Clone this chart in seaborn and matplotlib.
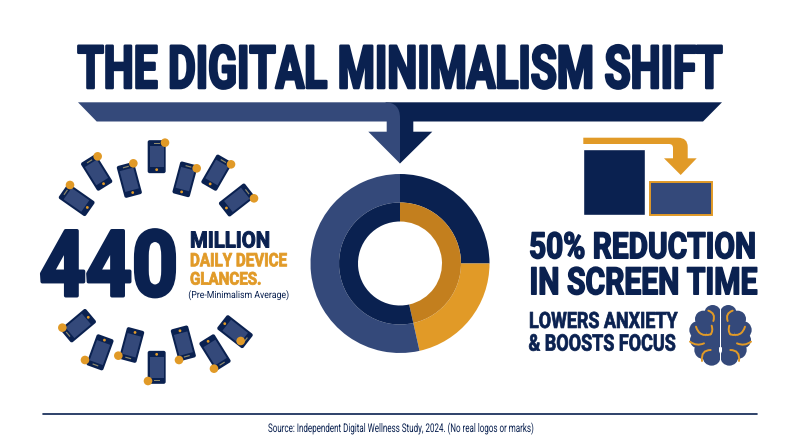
import matplotlib
matplotlib.use("Agg")
import matplotlib.patheffects as pe
import matplotlib.pyplot as plt
import matplotlib.transforms as mtransforms
from matplotlib.patches import Circle, FancyBboxPatch, PathPatch, Rectangle
from matplotlib.path import Path
import seaborn as sns
import pandas as pd

# ---- data ----
outer_labels = ["Segment A", "Segment B", "Segment C"]
outer_values = [25.0, 21.5, 53.5]
inner_labels = ["Segment D", "Segment E"]
inner_values = [46.5, 53.5]
screen_labels = ["Before", "After"]
screen_values = [100, 50]

title_text = "THE DIGITAL MINIMALISM SHIFT"
source_text = "Source: Independent Digital Wellness Study, 2024. (No real logos or marks)"

NAVY = "#0a2150"
BLUE = "#34497a"
ORANGE = "#e19a27"
DARK_ORANGE = "#c37f1e"

W, H = 800, 447
sns.set_theme(style="white")
plt.rcParams["font.family"] = ["Roboto", "DejaVu Sans"]

fig = plt.figure(figsize=(W / 100, H / 100), dpi=100, facecolor="white")
ax = fig.add_axes([0, 0, 1, 1])
ax.set_xlim(0, W)
ax.set_ylim(H, 0)
ax.axis("off")
renderer = fig.canvas.get_renderer()
CAP = 0.711
RIGHT_LIMIT = 790


class Condense(pe.AbstractPathEffect):
    """Reshape a text's glyphs about its left baseline point, optionally thickening them."""

    def __init__(self, sx, sy, stroke):
        super().__init__()
        self.sx, self.sy, self.stroke = sx, sy, stroke

    def draw_path(self, renderer, gc, tpath, affine, rgbFace=None):
        x0, y0 = affine.transform((0, 0))
        reshape = (mtransforms.Affine2D().translate(-x0, -y0)
                   .scale(self.sx, self.sy).translate(x0, y0))
        gc0 = renderer.new_gc()
        gc0.copy_properties(gc)
        if self.stroke > 0:
            gc0.set_linewidth(self.stroke * 0.72)
            gc0.set_foreground(rgbFace)
            gc0.set_joinstyle("round")
        renderer.draw_path(gc0, tpath, affine + reshape, rgbFace)
        gc0.restore()


def fit_text(s, x0, x1, top, base, color=NAVY, weight="bold", stroke=0.0):
    """Real text whose caps run from y=top to y=base and whose width runs from x0 to x1."""
    size = (base - top - stroke) / CAP * 0.72
    t = ax.text(x0, base - stroke / 2, s, fontsize=size, color=color, ha="left", va="baseline",
                fontweight=weight)
    natural = t.get_window_extent(renderer).width
    sy = max(1.0, natural / (RIGHT_LIMIT - x0))
    t.set_fontsize(size / sy)
    natural = t.get_window_extent(renderer).width
    sx = (x1 - x0) / natural
    t.set_path_effects([Condense(sx, sy, stroke)])
    return t


# ---- title and connector ----
fit_text(title_text, 77.5, 722, 44.5, 89.3, stroke=2.5)

navy_bar = Path([(385, 102.3), (722, 102.3), (703, 121.5), (413.3, 121.5), (413.3, 131.7),
                 (432.3, 131.7), (400, 163.5), (398, 160), (398, 110), (385, 102.3)], closed=True)
ax.add_patch(PathPatch(navy_bar, fc=NAVY, lw=0))
blue_bar = Path(
    [(78, 102.3), (385, 102.3), (400, 102.3), (400, 118), (400, 163.5), (368.3, 131.7),
     (386.7, 131.7), (386.7, 121.5), (96.7, 121.5), (78, 102.3)],
    [Path.MOVETO, Path.LINETO, Path.CURVE3, Path.CURVE3, Path.LINETO, Path.LINETO,
     Path.LINETO, Path.LINETO, Path.LINETO, Path.CLOSEPOLY])
ax.add_patch(PathPatch(blue_bar, fc=BLUE, lw=0))

# ---- donut ----
cx, cy, R = 400, 263.5, 89.5
dax = fig.add_axes([(cx - R) / W, 1 - (cy + R) / H, 2 * R / W, 2 * R / H])
dax.pie(outer_values, radius=1.0, startangle=90, counterclock=False,
        colors=[NAVY, ORANGE, BLUE], wedgeprops=dict(width=1 - 61 / R, lw=0))
dax.pie(inner_values, radius=61 / R, startangle=90, counterclock=False,
        colors=[DARK_ORANGE, NAVY], wedgeprops=dict(width=(61 - 42) / R, lw=0))
dax.set_xlim(-1, 1)
dax.set_ylim(-1, 1)

# ---- screen-time bars ----
bax = fig.add_axes([583.3 / W, 1 - 215 / H, 128.4 / W, 65.7 / H])
df = pd.DataFrame({"period": screen_labels, "hours": screen_values})
sns.barplot(data=df, x="period", y="hours", hue="period", palette=[NAVY, BLUE],
            legend=False, width=0.92, saturation=1, ax=bax)
bax.set_ylim(0, 100)
bax.set_xlim(-0.46, 1.46)
bax.axis("off")
bax.patches[1].set_edgecolor(ORANGE)
bax.patches[1].set_linewidth(1.4)
bax.patches[1].set_clip_on(False)

# orange step arrow
arrow = Path(
    [(583.3, 137.7), (678, 137.7), (687.7, 137.7), (687.7, 147), (687.7, 158.3), (696.7, 158.3),
     (680.7, 175), (664, 158.3), (673, 158.3), (673, 148), (673, 144), (669, 144), (583.3, 144),
     (583.3, 137.7)],
    [Path.MOVETO, Path.LINETO, Path.CURVE3, Path.CURVE3, Path.LINETO, Path.LINETO, Path.LINETO,
     Path.LINETO, Path.LINETO, Path.LINETO, Path.CURVE3, Path.CURVE3, Path.LINETO, Path.CLOSEPOLY])
ax.add_patch(PathPatch(arrow, fc=ORANGE, lw=0))

# ---- left KPI ----
fit_text("440", 39.5, 178, 229, 297.5, stroke=3.5)
fit_text("MILLION", 190, 270, 231, 248, stroke=1.0)
fit_text("DAILY DEVICE", 190, 286.7, 252.7, 266.7, ORANGE, stroke=0.8)
fit_text("GLANCES.", 190, 261.7, 271.7, 285, ORANGE, stroke=0.8)
fit_text("(Pre-Minimalism Average)", 188.3, 289.3, 291, 298, weight="normal")

# ---- right KPI ----
fit_text("50% REDUCTION", 529, 756, 231.7, 259, stroke=1.5)
fit_text("IN SCREEN TIME", 529.5, 756.7, 266.7, 295, stroke=1.5)
fit_text("LOWERS ANXIETY", 529, 677.7, 311.7, 328.3, stroke=0.7)
fit_text("& BOOSTS FOCUS", 528.5, 676, 334, 351, stroke=0.7)

# ---- footer ----
ax.plot([43, 757], [414, 414], color=NAVY, lw=1.2)
fit_text(source_text, 268, 532, 423.5, 432, weight="normal")

# ---- phones: centre x, centre y, rotation (deg), dot x, dot y (zoom px / 3 + offset) ----
phones = [
    (380, 80, 0, 405, 38), (465, 148, 15, 500, 115), (560, 128, 30, 603, 103),
    (620, 210, 52, 672, 205), (298, 150, -15, 310, 100), (200, 128, -32, 203, 79),
    (140, 210, -55, 120, 165),
    (380, 712, 180, 354, 753), (305, 645, 195, 265, 677), (210, 667, 200, 165, 690),
    (145, 587, 230, 97, 593), (460, 640, 165, 447, 690), (555, 667, 148, 552, 716),
    (615, 605, 128, 632, 633),
]
for zx, zy, rot, dx, dy in phones:
    px, py = 30 + zx / 3, 130 + zy / 3
    tr = mtransforms.Affine2D().rotate_deg(rot).translate(px, py) + ax.transData
    ax.add_patch(FancyBboxPatch((-8, -15.5), 16, 31, boxstyle="round,pad=1,rounding_size=2",
                                fc=NAVY, lw=0, transform=tr))
    ax.add_patch(Rectangle((-7, -11), 14, 21.5, fc=BLUE, lw=0, transform=tr))
    ax.add_patch(Circle((0, 13), 1.4, fc=ORANGE, lw=0, transform=tr))
    ax.add_patch(Rectangle((-3, -14), 6, 1.2, fc="#8f8a6c", lw=0, transform=tr))
    ax.add_patch(Circle((30 + dx / 3, 130 + dy / 3), 4.3, fc=ORANGE, lw=0, zorder=5))

# ---- brain (zoom px / 3 + offset, mirrored about the central gap) ----
MID = 121.5


def bx(v, side):
    return 680 + (v if side == 0 else 2 * MID - v) / 3


def by(v):
    return 295 + v / 3


lobes = [(98, 55, 25), (70, 72, 25), (55, 105, 27), (55, 135, 25), (70, 165, 27), (95, 185, 27),
         (105, 130, 30), (100, 90, 30)]
folds = [
    [(85, 47), (108, 55), (100, 78)],
    [(48, 95), (58, 128), (92, 118)],
    [(92, 118), (100, 108), (95, 92)],
    [(30, 140), (50, 155), (72, 145)],
    [(66, 198), (62, 165), (92, 165)],
]
for side in (0, 1):
    for lx, ly, r in lobes:
        ax.add_patch(Circle((bx(lx, side), by(ly)), r / 3, fc=BLUE, lw=0))
    ax.add_patch(Rectangle((min(bx(95, side), bx(118, side)), by(50)), 23 / 3, 150 / 3, fc=BLUE, lw=0))
    for (a, b, c) in folds:
        p = Path([(bx(a[0], side), by(a[1])), (bx(b[0], side), by(b[1])), (bx(c[0], side), by(c[1]))],
                 [Path.MOVETO, Path.CURVE3, Path.CURVE3])
        ax.add_patch(PathPatch(p, fc="none", ec=ORANGE, lw=1.4, capstyle="round", zorder=4))
ax.add_patch(Rectangle((719.6, 304), 1.8, 62, fc="white", lw=0, zorder=3))

fig.savefig("out.png", dpi=100, facecolor="white")
